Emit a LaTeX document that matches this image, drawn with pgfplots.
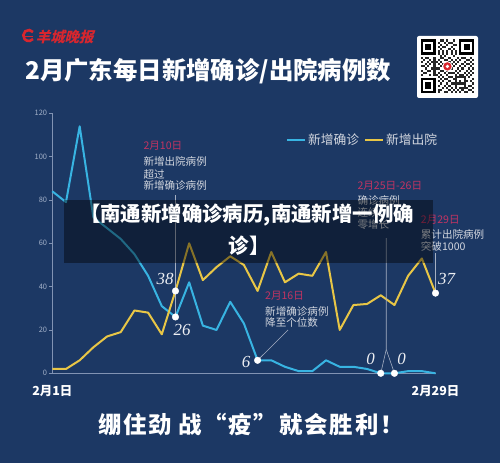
\documentclass[border=0pt]{standalone}
\usepackage{fontspec}
\setmainfont{Noto Sans CJK SC}
\newfontfamily\numfont{Liberation Serif}
\usepackage{pgfplots}
\pgfplotsset{compat=1.18}
\definecolor{bg}{HTML}{1C3864}
\definecolor{cblue}{HTML}{38B4E2}
\definecolor{cyellow}{HTML}{E8C646}
\definecolor{pinkc}{HTML}{C23462}
\definecolor{grayc}{HTML}{D3D7DF}
\definecolor{axiscol}{HTML}{8193B3}
\definecolor{ticklab}{HTML}{A3B1C9}
\definecolor{annline}{HTML}{A5AFC2}
\definecolor{logored}{HTML}{D8262E}
\newcommand{\fs}[1]{\fontsize{#1}{#1}\selectfont}
\begin{document}
\begin{tikzpicture}[x=1bp,y=1bp]
\fill[bg] (0,0) rectangle (500,463);
\useasboundingbox (0,0) rectangle (500,463);

% logo
\draw[logored, line width=2.6bp] (33,431) arc[start angle=40, end angle=320, radius=5.5bp];
\draw[logored, line width=1.6bp] (25,426.5) -- (33,426.5);
\node[anchor=west, text=logored, inner sep=0pt, xslant=0.25] at (37,426.5) {\bfseries\fs{14.5}羊城晚报};

% title
\node[anchor=west, text=white, inner sep=0pt] at (25,392) {\bfseries\fs{24.5}2月广东每日新增确诊/出院病例数};

% QR code
\fill[white, rounded corners=2bp] (417,365) rectangle (478,427);
\def\m{2.15}
\foreach \ox/\oy in {0/0, 18/0, 0/18}{
  \fill[black] (420.5+\ox*\m, 423.5-\oy*\m) rectangle ++(7*\m,-7*\m);
  \fill[white] (420.5+\ox*\m+\m, 423.5-\oy*\m-\m) rectangle ++(5*\m,-5*\m);
  \fill[black] (420.5+\ox*\m+2*\m, 423.5-\oy*\m-2*\m) rectangle ++(3*\m,-3*\m);
}
\foreach \r/\cols in {0/{9,10,12,15},1/{8,11,13,14},2/{9,12,15,16},3/{8,10,11,14},4/{9,13,15},5/{8,10,12,14,16},6/{8,10,12,14,16},7/{9,11,15},
 8/{0,2,3,6,9,10,13,17,19,20,23},9/{1,4,6,8,11,12,14,16,18,21,22,24},10/{0,3,5,6,7,9,13,15,17,20,23},11/{2,4,6,8,10,11,14,16,19,21,22,24},
 12/{0,1,3,6,9,12,13,15,18,20,23},13/{2,5,6,7,8,11,14,17,19,22,24},14/{0,3,4,6,9,10,12,16,18,21,23},15/{1,2,6,8,11,13,14,15,17,20,22,24},
 16/{0,4,6,7,9,12,16,18,19,21,23},17/{8,10,13,14,16,17,18,19,20,22},18/{9,11,12,15,16,20,24},19/{8,10,13,16,18,20,21,23},
 20/{9,12,14,15,16,17,18,19,20,24},21/{8,11,13,16,20,22,23},22/{10,12,14,16,18,19,20,21,24},23/{8,9,13,15,17,19,22,23},24/{8,11,12,14,16,18,20,21,24}}{
  \foreach \c in \cols {\fill[black!85] (420.5+\c*\m, 423.5-\r*\m) rectangle ++(\m,-\m);}
}
\fill[white] (447.4,396.6) circle (5.2bp);
\fill[logored] (447.4,396.6) circle (4.2bp);
\fill[white] (447.4,396.6) circle (1.8bp);

% legend
\draw[cblue, line width=2bp] (287,323) -- (305,323);
\node[anchor=west, text=grayc, inner sep=0pt] at (308,323) {\fs{12.8}新增确诊};
\draw[cyellow, line width=2bp] (365,323) -- (383,323);
\node[anchor=west, text=grayc, inner sep=0pt] at (386,323) {\fs{12.8}新增出院};

\begin{axis}[
  at={(52.3bp,89.7bp)}, anchor=south west,
  scale only axis, width=383.2bp, height=260bp,
  xmin=1, xmax=29, ymin=0, ymax=120,
  axis x line=bottom, axis y line=left,
  axis line style={-, draw=axiscol, line width=0.8bp},
  xtick={1,29}, xticklabels={2月1日,2月29日},
  ytick={0,20,40,60,80,100,120},
  xtick style={draw=none},
  ytick style={draw=axiscol, line width=0.6bp},
  major tick length=3bp,
  tick align=outside,
  xticklabel style={text=white, font=\bfseries\fs{12.5}, anchor=base, yshift=-19bp, inner sep=0pt},
  yticklabel style={text=ticklab, font=\fs{7.5}, inner sep=2pt},
  /pgf/number format/assume math mode=true,
  clip=false,
]
\addplot[cblue, line width=2bp, line join=round] coordinates {
(1,84)(2,79)(3,114)(4,72)(5,67)(6,62)(7,55)(8,45)(9,31)(10,26)
(11,42)(12,22)(13,20)(14,33)(15,23)(16,6)(17,6)(18,3)(19,1)(20,1)
(21,6)(22,3)(23,3)(24,2)(25,0)(26,0)(27,1)(28,1)(29,0)};
\addplot[cyellow, line width=2bp, line join=round] coordinates {
(1,2)(2,2)(3,6)(4,12)(5,17)(6,19)(7,29)(8,28)(9,18)(10,38)
(11,60)(12,43)(13,49)(14,54)(15,50)(16,38)(17,56)(18,42)(19,46)(20,45)
(21,56)(22,20)(23,31.5)(24,32)(25,36)(26,31.5)(27,45)(28,53)(29,37)};
\draw[annline, line width=0.6bp] (axis cs:10,82.3) -- (axis cs:10,26);
\draw[annline, line width=0.6bp] (axis cs:16,6) -- (axis cs:18.23,20);
\draw[annline, line width=0.6bp] (axis cs:25.4,62.4) -- (axis cs:25.4,11) -- (axis cs:25,0);
\draw[annline, line width=0.6bp] (axis cs:25.4,11) -- (axis cs:26,0);
\draw[annline, line width=0.6bp] (axis cs:29,55.4) -- (axis cs:29,37);
\addplot[only marks, mark=*, mark size=3.3bp, white, mark options={fill=white, draw=white}] coordinates {
(10,38)(10,26)(16,6)(25,0)(26,0)(29,37)};
\end{axis}

% number labels
\tikzset{num/.style={text=white!92!bg, inner sep=0pt, font=\numfont\itshape\fs{17}}}
\node[num] at (165,184) {38};
\node[num] at (182,133) {26};
\node[num] at (246,101.5) {6};
\node[num] at (370.5,104.5) {0};
\node[num] at (401.5,104.5) {0};
\node[num] at (446.5,184) {37};

% annotations
\tikzset{pk/.style={anchor=west, inner sep=0pt, text=pinkc, font=\fs{10.6}},
         gy/.style={anchor=west, inner sep=0pt, text=grayc, font=\fs{10.6}}}
\node[pk] at (143.3,317.5) {2月10日};
\node[gy] at (143.3,301.7) {新增出院病例};
\node[gy] at (143.3,288.8) {超过};
\node[gy] at (143.3,277.2) {新增确诊病例};

\node[pk] at (265,167.2) {2月16日};
\node[gy] at (265,151.2) {新增确诊病例};
\node[gy] at (265,140.5) {降至个位数};

\node[pk] at (357.3,276.8) {2月25日-26日};
\node[gy] at (357.3,262.5) {确诊病例};
\node[gy] at (357.3,250.2) {连续};
\node[gy] at (357.3,238) {零增长};

\node[pk] at (420.7,243.5) {2月29日};
\node[gy] at (420.7,228.3) {累计出院病例};
\node[gy] at (420.7,216.3) {突破1000};

% banner
\fill[black, opacity=0.42] (64,200) rectangle (433,263);
\node[text=white, inner sep=0pt] at (247,248) {\bfseries\fs{20.5}【南通新增确诊病历,南通新增一例确};
\node[text=white, inner sep=0pt] at (249,217.3) {\bfseries\fs{20.5}诊】};

% slogan
\node[text=white, inner sep=0pt] at (251,38) {\bfseries\fs{23.5}\addfontfeature{LetterSpace=8}绷住劲\hspace{6bp}战“疫”就会胜利！};
\end{tikzpicture}
\end{document}
